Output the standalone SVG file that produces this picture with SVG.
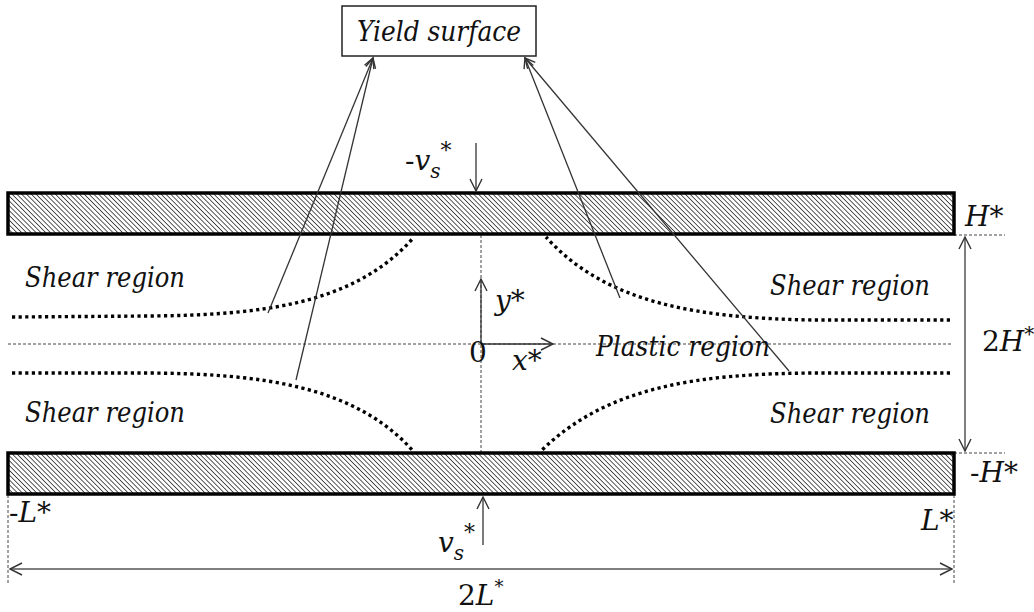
<svg xmlns="http://www.w3.org/2000/svg" width="1034" height="612" viewBox="0 0 1034 612">
<style>
text{font-family:'DejaVu Serif','Liberation Serif',serif;fill:#111}
.it{font-style:italic}
.lbl{font-size:28px;font-style:italic}
.plate{fill:url(#hatch);stroke:#000;stroke-width:3.5}
.dot{fill:none;stroke:#000;stroke-width:3.4;stroke-dasharray:3.2 3.4}
.dash{fill:none;stroke:#444;stroke-width:1;stroke-dasharray:3 2}
.ln{fill:none;stroke:#333;stroke-width:1.3}
.dim{fill:none;stroke:#555;stroke-width:1.5}
</style>
<defs>
<pattern id="hatch" patternUnits="userSpaceOnUse" width="3.4" height="3.4" patternTransform="rotate(-45)">
<rect width="3.4" height="3.4" fill="#fff"/>
<line x1="0" y1="0" x2="0" y2="3.4" stroke="#111" stroke-width="1.4"/>
</pattern>
<marker id="ah" viewBox="-14 -8 16 16" markerWidth="16" markerHeight="16" markerUnits="userSpaceOnUse" refX="0" refY="0" orient="auto-start-reverse">
<path d="M-12,-6 L0,0 L-12,6" fill="none" stroke="#333" stroke-width="1.4"/>
</marker>
<marker id="ahs" viewBox="-12 -7 14 14" markerWidth="14" markerHeight="14" markerUnits="userSpaceOnUse" refX="0" refY="0" orient="auto-start-reverse">
<path d="M-10,-5 L0,0 L-10,5" fill="none" stroke="#333" stroke-width="1.4"/>
</marker>
</defs>
<rect width="1034" height="612" fill="#fff"/>

<g id="dashed-guides">
<line class="dash" x1="8" y1="344" x2="952" y2="344"/>
<line class="dash" x1="481" y1="235" x2="481" y2="453"/>
<line class="dash" x1="954" y1="235" x2="1005" y2="235"/>
<line class="dash" x1="954" y1="453" x2="1005" y2="453"/>
<line class="dash" x1="8" y1="495" x2="8" y2="585"/>
<line class="dash" x1="954" y1="495" x2="954" y2="585"/>
</g>

<g id="top-plate"><rect class="plate" x="8" y="193" width="946" height="41"/></g>
<g id="bottom-plate"><rect class="plate" x="8" y="453" width="946" height="41"/></g>

<g id="yield-boundaries">
<path class="dot" d="M12,317 L150,316 C260,315 355,305 414,237"/>
<path class="dot" d="M950,320 L812,320 C702,318 607,305 546,237"/>
<path class="dot" d="M12,373 L150,373 C260,374 355,385 414,452"/>
<path class="dot" d="M950,373 L812,373 C702,374 607,385 540,452"/>
</g>

<g id="yield-surface">
<rect x="342" y="6" width="194" height="50" fill="#fff" stroke="#222" stroke-width="1.5"/>
<text class="lbl" x="357" y="41" textLength="164" lengthAdjust="spacingAndGlyphs">Yield surface</text>
</g>

<g id="connectors">
<line class="ln" x1="268" y1="313" x2="373" y2="58" marker-end="url(#ahs)"/>
<line class="ln" x1="296" y1="380" x2="373" y2="58" marker-end="url(#ahs)"/>
<line class="ln" x1="620" y1="298" x2="525" y2="58" marker-end="url(#ahs)"/>
<line class="ln" x1="789" y1="371" x2="525" y2="58" marker-end="url(#ahs)"/>
<line class="ln" x1="476" y1="143" x2="476" y2="191" marker-end="url(#ah)"/>
<line class="ln" x1="483" y1="545" x2="483" y2="497" marker-end="url(#ah)"/>
<line class="ln" x1="481" y1="344" x2="481" y2="279" marker-end="url(#ah)"/>
<line class="ln" x1="481" y1="344" x2="553" y2="344" marker-end="url(#ah)"/>
<line class="dim" x1="965" y1="237" x2="965" y2="451" marker-start="url(#ah)" marker-end="url(#ah)"/>
<line class="dim" x1="10" y1="569" x2="952" y2="569" marker-start="url(#ah)" marker-end="url(#ah)"/>
</g>

<g id="region-labels">
<text class="lbl" x="25" y="287" textLength="160" lengthAdjust="spacingAndGlyphs">Shear region</text>
<text class="lbl" x="770" y="295" textLength="160" lengthAdjust="spacingAndGlyphs">Shear region</text>
<text class="lbl" x="25" y="422" textLength="160" lengthAdjust="spacingAndGlyphs">Shear region</text>
<text class="lbl" x="770" y="423" textLength="160" lengthAdjust="spacingAndGlyphs">Shear region</text>
<text class="lbl" x="596" y="356" textLength="174" lengthAdjust="spacingAndGlyphs">Plastic region</text>
</g>

<g id="math-labels" font-size="28">
<text x="405" y="170">-<tspan class="it">v</tspan><tspan class="it" font-size="20" dy="8">s</tspan><tspan font-size="22" dy="-20">*</tspan></text>
<text x="438" y="552"><tspan class="it">v</tspan><tspan class="it" font-size="20" dy="8">s</tspan><tspan font-size="22" dy="-20">*</tspan></text>
<text x="495" y="310" class="it">y*</text>
<text x="512" y="370" class="it">x*</text>
<text x="469" y="362">0</text>
<text x="965" y="226" class="it">H*</text>
<text x="970" y="482">-<tspan class="it">H*</tspan></text>
<text x="982" y="351">2<tspan class="it">H</tspan><tspan font-size="20" dy="-10">*</tspan></text>
<text x="9" y="522">-<tspan class="it">L*</tspan></text>
<text x="921" y="530" class="it">L*</text>
<text x="458" y="605">2<tspan class="it">L</tspan><tspan font-size="18" dy="-12">*</tspan></text>
</g>
</svg>
